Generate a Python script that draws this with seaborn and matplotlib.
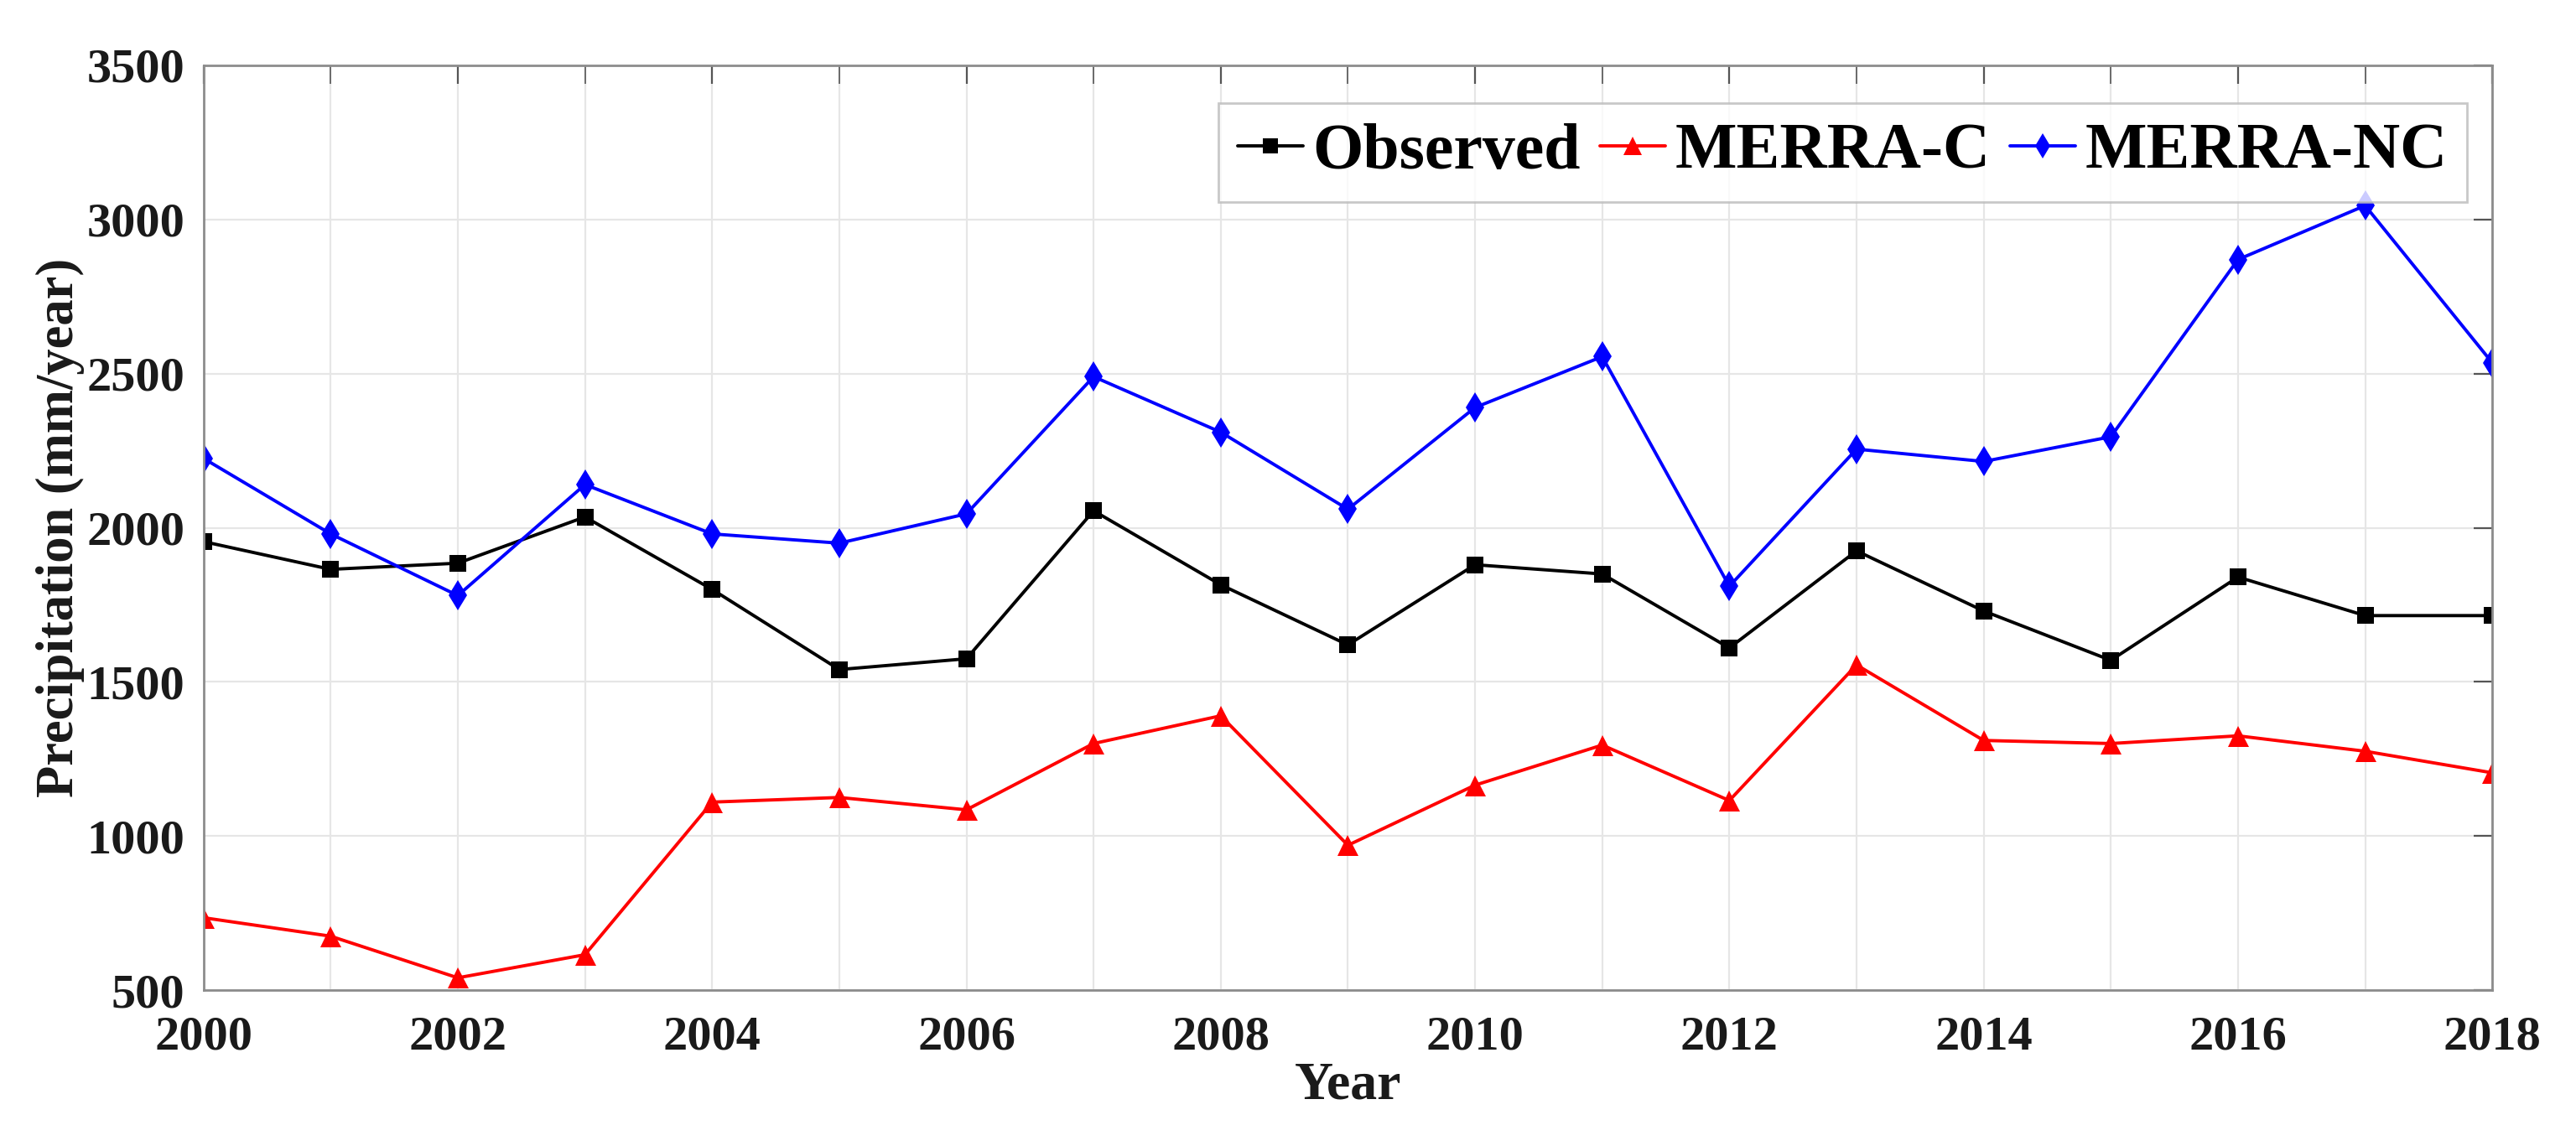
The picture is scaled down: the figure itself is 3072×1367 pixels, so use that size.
import numpy as np
import pandas as pd
import matplotlib
matplotlib.use("Agg")
import matplotlib.pyplot as plt
import seaborn as sns
from matplotlib.ticker import MultipleLocator

years = list(range(2000, 2019))
observed = [1955, 1865, 1885, 2035, 1800, 1540, 1575, 2055, 1815, 1620,
            1880, 1850, 1610, 1925, 1730, 1570, 1840, 1715, 1715]
merra_c = [735, 675, 540, 615, 1110, 1125, 1085, 1300, 1390, 970,
           1165, 1295, 1115, 1555, 1310, 1300, 1325, 1275, 1205]
merra_nc = [2225, 1980, 1780, 2140, 1980, 1950, 2045, 2490, 2310, 2060,
            2390, 2555, 1810, 2255, 2215, 2295, 2870, 3045, 2535]
series_names = ["Observed", "MERRA-C", "MERRA-NC"]

data = pd.DataFrame({
    "Year": years * 3,
    "Precipitation": observed + merra_c + merra_nc,
    "Series": [series_names[0]] * len(years) + [series_names[1]] * len(years) + [series_names[2]] * len(years),
})

sns.set_style("white")
plt.rcParams["font.family"] = ["Liberation Serif", "DejaVu Serif"]
plt.rcParams["font.weight"] = "bold"

fig = plt.figure(figsize=(15.36, 6.835), dpi=200)
ax = fig.add_axes([0.079, 0.136, 0.8885, 0.807])

palette = {"Observed": "black", "MERRA-C": "red", "MERRA-NC": "blue"}
markers = {"Observed": "s", "MERRA-C": "^", "MERRA-NC": "d"}
sns.lineplot(data=data, x="Year", y="Precipitation", hue="Series", style="Series",
             palette=palette, markers=markers, dashes=False, markersize=9,
             linewidth=1.4, markeredgewidth=0, ax=ax)
# squares look bigger than triangles at the same size
for line in ax.lines:
    if line.get_marker() == "s":
        line.set_markersize(7.5)

ax.set_xlim(2000, 2018)
ax.set_ylim(500, 3500)
ax.xaxis.set_major_locator(MultipleLocator(2))
ax.xaxis.set_minor_locator(MultipleLocator(1))
ax.yaxis.set_major_locator(MultipleLocator(500))
ax.grid(True, which="both", color="#e6e6e6", linewidth=0.8)
ax.set_axisbelow(True)

for s in ax.spines.values():
    s.set_color("#8c8c8c")
    s.set_linewidth(1.0)
ax.tick_params(which="both", direction="in", top=True, right=True, color="#555555",
               labelsize=21)
ax.tick_params(axis="x", which="both", pad=11)
ax.tick_params(axis="y", which="both", pad=8)
ax.tick_params(which="major", length=8)
ax.tick_params(which="minor", length=8)
for lab in ax.get_xticklabels() + ax.get_yticklabels():
    lab.set_fontweight("bold")
    lab.set_color("#1a1a1a")

ax.set_xlabel("Year", fontsize=23, fontweight="bold", color="#1a1a1a", labelpad=1)
ax.set_ylabel("Precipitation (mm/year)", fontsize=22.5, fontweight="bold", color="#1a1a1a", labelpad=1)

handles, labels = ax.get_legend_handles_labels()
leg = ax.legend(handles, labels, loc="upper right", ncol=3, fontsize=28,
                frameon=True, fancybox=False, edgecolor="#bbbbbb",
                handlelength=1.0, handletextpad=0.15, columnspacing=0.3,
                borderpad=0.3, borderaxespad=0, bbox_to_anchor=(0.989, 0.959),
                markerscale=0.85)
leg.get_frame().set_linewidth(1.0)
for t in leg.get_texts():
    t.set_fontweight("bold")
    t.set_color("black")

fig.savefig("out.png", dpi=200)
